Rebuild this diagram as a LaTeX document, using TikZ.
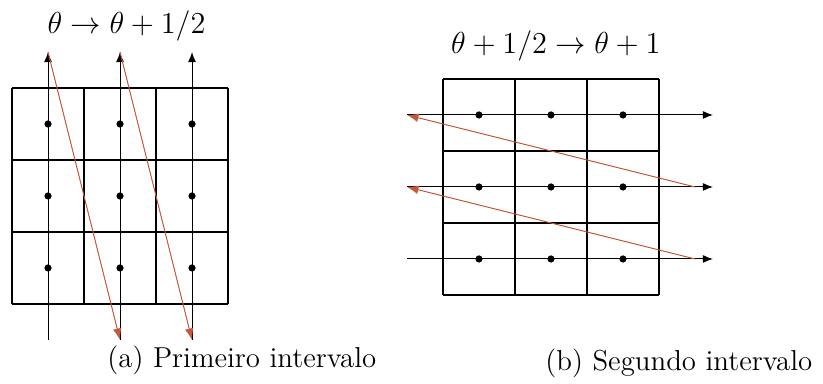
\documentclass[tikz,border=0pt]{standalone}
\usepackage{amsmath,amssymb}
\usepackage{xcolor}
\usepackage{tikz}
\usetikzlibrary{arrows.meta,positioning,calc}
\definecolor{sweepred}{RGB}{196,88,62}
\tikzset{
    cellgrid/.style={draw,line width=0.9pt},
    site/.style={circle,fill,inner sep=0pt,minimum size=1mm},
    axarr/.style={-{Latex[length=1.4mm,width=1.1mm]},thin},
    backarr/.style={-{Latex[length=1.6mm,width=1.2mm]},thin,draw=sweepred,fill=sweepred},
    ttl/.style={font=\fontsize{11.5}{13}\selectfont},
    subcap/.style={font=\fontsize{11.4}{13}\selectfont}
}
\begin{document}
\begin{tikzpicture}
    \useasboundingbox (0,0) rectangle (11.431,5.333);

    % first interval: vertical sweeps
    \begin{scope}[shift={(0.167,1.111)}]
        \draw[cellgrid] (0,0) grid (3,3);
        \foreach \i in {0,1,2} {
            \coordinate (lb\i) at (\i+0.5,-0.5);
            \coordinate (lt\i) at (\i+0.5,3.5);
            \draw[axarr] (lb\i) -- (lt\i);
            \foreach \j in {0,1,2}
                \node[site] (a\i\j) at (\i+0.5,\j+0.5) {};
        }
        \draw[backarr] (lt0) -- (lb1);
        \draw[backarr] (lt1) -- (lb2);
    \end{scope}
    \node[ttl,anchor=base] (ttla) at (1.757,4.861) {$\theta\to\theta+1/2$};
    \node[subcap,anchor=base west,inner sep=0pt] (capa) at (1.486,0.222) {(a) Primeiro intervalo};

    % second interval: horizontal sweeps
    \begin{scope}[shift={(6.153,1.236)}]
        \draw[cellgrid] (0,0) grid (3,3);
        \foreach \j in {0,1,2} {
            \coordinate (rl\j) at (-0.5,\j+0.5);
            \coordinate (rm\j) at (3.5,\j+0.5);
            \coordinate (rr\j) at (3.75,\j+0.5);
            \draw[axarr] (rl\j) -- (rr\j);
            \foreach \i in {0,1,2}
                \node[site] (b\i\j) at (\i+0.5,\j+0.5) {};
        }
        \draw[backarr] (rm0) -- (rl1);
        \draw[backarr] (rm1) -- (rl2);
    \end{scope}
    \node[ttl,anchor=base] (ttlb) at (7.72,4.583) {$\theta+1/2\to\theta+1$};
    \node[subcap,anchor=base west,inner sep=0pt] (capb) at (7.569,0.18) {(b) Segundo intervalo};
\end{tikzpicture}
\end{document}
